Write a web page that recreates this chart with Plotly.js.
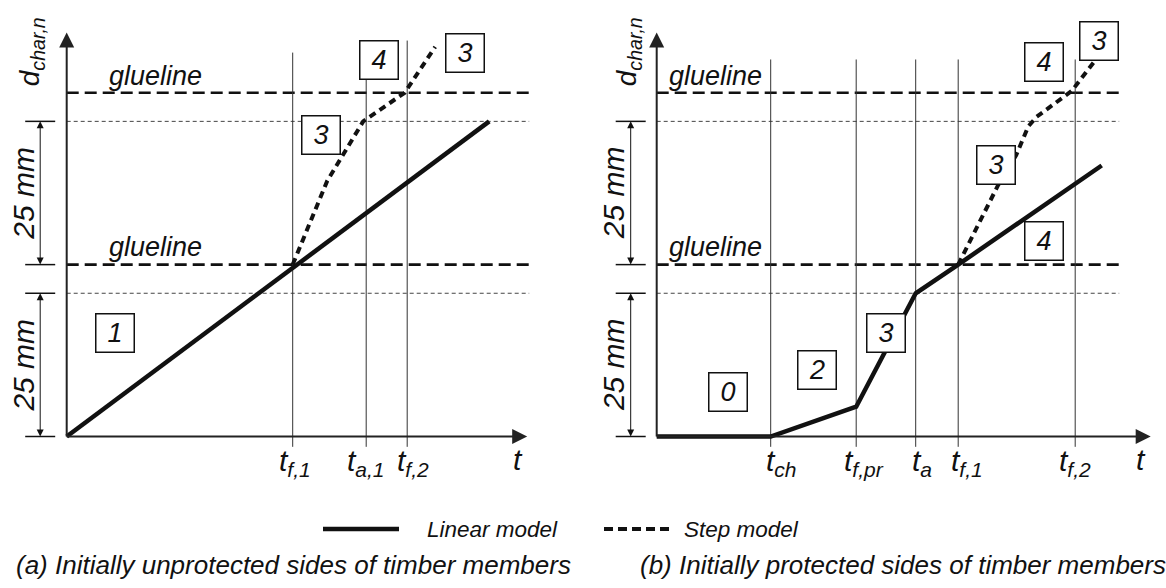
<!DOCTYPE html>
<html>
<head>
<meta charset="utf-8">
<script src="https://cdn.plot.ly/plotly-3.0.1.min.js"></script>
<style>html,body{margin:0;padding:0;background:#fff}#chart{width:1166px;height:588px}</style>
</head>
<body>
<div id="chart"></div>
<script>
// ---------- data (t in arbitrary time units, d in mm) ----------
const glueLevels = [30, 60];          // gluelines
const charLevels = [25, 55];          // thin dashed reference depths
const dimSpans = [[0, 25], [30, 55]]; // "25 mm" dimensions

const leftTimes = [45.2, 59.9, 68.1];
const leftTimeLabels = ['t<sub>f,1</sub>', 't<sub>a,1</sub>', 't<sub>f,2</sub>'];
const leftLineTops = [67.0, 69.1, 69.1];

const rightTimes = [22.8, 39.9, 51.8, 60.3, 83.7];
const rightTimeLabels = ['t<sub>ch</sub>', 't<sub>f,pr</sub>', 't<sub>a</sub>', 't<sub>f,1</sub>', 't<sub>f,2</sub>'];
const rightLineTops = [65.8, 65.8, 65.8, 65.8, 65.8];

const leftLinearT = [0, 84.5];
const leftLinearD = [0, 55];
const leftStepT = [45.2, 52.1, 59.3, 67.6, 73.7];
const leftStepD = [30, 44.6, 55, 60, 68];

const rightLinearT = [0, 22.8, 39.9, 51.8, 60.3, 89.0];
const rightLinearD = [0, 0, 5.2, 25, 30, 47.3];
const rightStepT = [60.3, 68.3, 71.9, 74.3, 76.0, 83.0, 87.5];
const rightStepD = [30, 43.9, 49.1, 54.1, 55.8, 60.3, 65.4];

const leftPhases = ['1', '3', '4', '3'];
const rightPhases = ['0', '2', '3', '3', '4', '3', '4'];

const legendNames = ['Linear model', 'Step model'];
const captions = ['(a) Initially unprotected sides of timber members', '(b) Initially protected sides of timber members'];
const axisNames = {y: 'd<sub>char,n</sub>', x: 't', glue: 'glueline', dim: '25 mm'};

// ---------- layout / style ----------
const FONT = '"Liberation Sans", Arial, Helvetica, sans-serif';
const INK = '#111';
const axisEnd = {x: [92.1, 98.8], y: 70.5};
const lineEnd = 92.5;      // reach of horizontal reference lines
const lineBottom = -1.8;
const dimOffset = [-5.3, -5.2];
const leftPhasePos = [[9.56, 18.15], [50.86, 52.7], [62.46, 65.64], [79.66, 66.93]];
const rightPhasePos = [[14.16, 7.77], [32.06, 11.6], [45.86, 18.15], [67.8, 47.38], [77.4, 65.3], [88.42, 69.06], [77.4, 34.2]];
const leftLabelShift = [2, 0, 6];
const rightLabelShift = [11, 8, 6, 9, 0];

const shapes = [];
const ann = [];
const traces = [];

function it(size) { return {family: FONT, size: size, color: INK, style: 'italic'}; }

function panel(xr, idx, times, tops, labels, shifts, phases, phasePos, yLabelX, glueX) {
  const tipX = axisEnd.x[idx];
  const dimX = dimOffset[idx];
  // gluelines and thin dashed lines
  glueLevels.forEach(v => shapes.push({type: 'line', xref: xr, yref: 'y', x0: 0, x1: lineEnd, y0: v, y1: v,
    line: {color: INK, width: 2.6, dash: '12px,6px'}, layer: 'below'}));
  charLevels.forEach(v => shapes.push({type: 'line', xref: xr, yref: 'y', x0: 0, x1: lineEnd, y0: v, y1: v,
    line: {color: '#444', width: 1, dash: '4px,3px'}, layer: 'below'}));
  // vertical time lines + labels
  times.forEach((t, i) => {
    shapes.push({type: 'line', xref: xr, yref: 'y', x0: t, x1: t, y0: lineBottom, y1: tops[i],
      line: {color: '#333', width: 1}, layer: 'below'});
    ann.push({xref: xr, yref: 'y', x: t, y: -4.6, text: labels[i], showarrow: false, font: it(30),
      xanchor: 'center', yanchor: 'middle', xshift: shifts[i]});
  });
  // axes: lines + arrowheads
  shapes.push({type: 'line', xref: xr, yref: 'y', x0: 0, x1: tipX - 2, y0: 0, y1: 0, line: {color: '#222', width: 2}});
  shapes.push({type: 'line', xref: xr, yref: 'y', x0: 0, x1: 0, y0: 0, y1: axisEnd.y - 2, line: {color: '#222', width: 2}});
  traces.push({x: [tipX, 0], y: [0, axisEnd.y], xaxis: xr, yaxis: 'y', mode: 'markers', hoverinfo: 'skip', cliponaxis: false,
    marker: {symbol: ['arrow-right', 'arrow-up'], size: 15, color: '#222', line: {width: 0}}});
  ann.push({xref: xr, yref: 'y', x: tipX - 1.9, y: -4.0, text: axisNames.x, showarrow: false, font: it(30)});
  ann.push({xref: xr, yref: 'y', x: yLabelX, y: 67.1, text: axisNames.y, showarrow: false, font: it(28), textangle: -90});
  // glueline labels
  glueLevels.forEach(v => ann.push({xref: xr, yref: 'y', x: glueX, y: v + 3.0, text: axisNames.glue, showarrow: false,
    font: it(27), xanchor: 'left', yanchor: 'middle'}));
  // dimensions
  const hx = [], hy = [], hs = [];
  dimSpans.forEach(sp => {
    sp.forEach(v => shapes.push({type: 'line', xref: xr, yref: 'y', x0: dimX - 3, x1: dimX + 3, y0: v, y1: v,
      line: {color: INK, width: 1.5}}));
    shapes.push({type: 'line', xref: xr, yref: 'y', x0: dimX, x1: dimX, y0: sp[0] + 0.6, y1: sp[1] - 0.6, line: {color: INK, width: 1}});
    hx.push(dimX, dimX); hy.push(sp[0], sp[1]); hs.push('arrow-down', 'arrow-up');
    const mid = (sp[0] + sp[1]) / 2;
    ann.push({xref: xr, yref: 'y', x: dimX - 3.3, y: mid, text: axisNames.dim, showarrow: false, font: it(30), textangle: -90});
  });
  traces.push({x: hx, y: hy, xaxis: xr, yaxis: 'y', mode: 'markers', hoverinfo: 'skip', cliponaxis: false,
    marker: {symbol: hs, size: 7, color: INK, line: {width: 0}}});
  // phase boxes
  phases.forEach((p, i) => ann.push({xref: xr, yref: 'y', x: phasePos[i][0], y: phasePos[i][1], text: p, showarrow: false,
    font: it(27), bgcolor: '#fff', bordercolor: INK, borderwidth: 1.5, borderpad: 0, width: 37, height: 37}));
}

traces.push(
  {x: leftLinearT, y: leftLinearD, xaxis: 'x', yaxis: 'y', mode: 'lines', name: legendNames[0], line: {color: INK, width: 4.5}},
  {x: leftStepT, y: leftStepD, xaxis: 'x', yaxis: 'y', mode: 'lines', name: legendNames[1], line: {color: INK, width: 4, dash: '7px,5px'}},
  {x: rightLinearT, y: rightLinearD, xaxis: 'x2', yaxis: 'y', mode: 'lines', name: legendNames[0], line: {color: INK, width: 4.5}},
  {x: rightStepT, y: rightStepD, xaxis: 'x2', yaxis: 'y', mode: 'lines', name: legendNames[1], line: {color: INK, width: 4, dash: '7px,5px'}}
);

panel('x', 0, leftTimes, leftLineTops, leftTimeLabels, leftLabelShift, leftPhases, leftPhasePos, -7.1, 8.06);
panel('x2', 1, rightTimes, rightLineTops, rightTimeLabels, rightLabelShift, rightPhases, rightPhasePos, -5.7, 2.06);

// legend (drawn manually)
const ly = 1 - 529 / 588;
shapes.push({type: 'line', xref: 'paper', yref: 'paper', x0: 323 / 1166, x1: 399 / 1166, y0: ly, y1: ly, line: {color: INK, width: 4.5}});
shapes.push({type: 'line', xref: 'paper', yref: 'paper', x0: 604 / 1166, x1: 674 / 1166, y0: ly, y1: ly, line: {color: INK, width: 4, dash: '9px,5px'}});
ann.push({xref: 'paper', yref: 'paper', x: 425 / 1166, y: ly, text: legendNames[0], showarrow: false, font: it(22.5), xanchor: 'left', yanchor: 'middle'});
ann.push({xref: 'paper', yref: 'paper', x: 682 / 1166, y: ly, text: legendNames[1], showarrow: false, font: it(22.5), xanchor: 'left', yanchor: 'middle'});
// captions
const cy = 1 - 565 / 588;
ann.push({xref: 'paper', yref: 'paper', x: 14 / 1166, y: cy, text: captions[0], showarrow: false, font: it(26), xanchor: 'left', yanchor: 'middle'});
ann.push({xref: 'paper', yref: 'paper', x: 638 / 1166, y: cy, text: captions[1], showarrow: false, font: it(26), xanchor: 'left', yanchor: 'middle'});

const layout = {
  width: 1166, height: 588, autosize: false,
  margin: {l: 0, r: 0, t: 0, b: 0, pad: 0},
  paper_bgcolor: '#fff', plot_bgcolor: 'rgba(0,0,0,0)',
  showlegend: false,
  xaxis: {domain: [0, 0.5], range: [-13.34, 103.26], visible: false, fixedrange: true},
  xaxis2: {domain: [0.5, 1], range: [-14.74, 101.86], visible: false, anchor: 'y', fixedrange: true},
  yaxis: {domain: [0, 1], range: [-26.44, 76.18], visible: false, fixedrange: true},
  shapes: shapes,
  annotations: ann
};

Plotly.newPlot('chart', traces, layout, {staticPlot: true, displayModeBar: false});
</script>
</body>
</html>
